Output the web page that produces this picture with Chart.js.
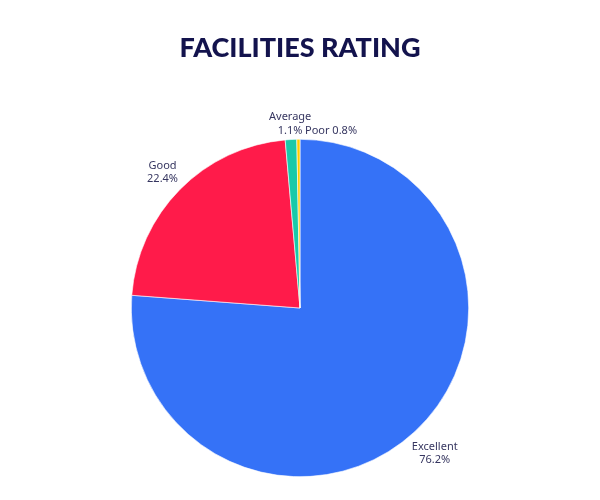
<!DOCTYPE html>
<html>
<head>
<meta charset="utf-8">
<script src="https://cdn.jsdelivr.net/npm/chart.js@4/dist/chart.umd.min.js"></script>
<style>
html,body{margin:0;padding:0;background:#fff;}
#wrap{position:relative;width:600px;height:500px;}
</style>
</head>
<body>
<div id="wrap"><canvas id="c" width="600" height="500"></canvas></div>
<script>
const categories = ["Excellent", "Good", "Average", "Poor"];
// slice sizes as drawn in the picture
const values = [76.2, 22.4, 1.1, 0.3];
// percentage texts as printed in the picture
const percentLabels = ["76.2%", "22.4%", "1.1%", "0.8%"];
const colors = ["#3572F7", "#FF1B4A", "#19C9A9", "#FFCC00"];
const titleText = "FACILITIES RATING";

const labelPlugin = {
  id: 'labels',
  afterDraw(chart) {
    const ctx = chart.ctx;
    ctx.save();
    // title
    ctx.fillStyle = '#13134d';
    ctx.font = '900 27px "Lato", "DejaVu Sans", sans-serif';
    ctx.textAlign = 'center';
    ctx.textBaseline = 'middle';
    ctx.fillText(titleText, 300, 48);
    // slice labels
    const meta = chart.getDatasetMeta(0);
    ctx.font = '11px "Noto Sans", sans-serif';
    ctx.fillStyle = '#363660';
    const lh = 13.5;
    meta.data.forEach((arc, i) => {
      const p = arc.getProps(['x','y','startAngle','endAngle','outerRadius'], true);
      const mid = (p.startAngle + p.endAngle) / 2;
      const txt = percentLabels[i];
      if (i === categories.length - 1 && values[i] < 1) {
        ctx.textAlign = 'left';
        ctx.fillText(categories[i] + ' ' + txt, p.x + 5, p.y - p.outerRadius - 8);
        return;
      }
      const w = Math.max(ctx.measureText(categories[i]).width, ctx.measureText(txt).width);
      const h = lh * 2;
      const ux = Math.cos(mid), uy = Math.sin(mid);
      const proj = Math.abs(ux) * w / 2 + Math.abs(uy) * h / 2;
      const d = p.outerRadius + (values[i] < 2 ? 1 : 4) + proj;
      const cx = p.x + ux * d;
      const cy = p.y + uy * d;
      ctx.textAlign = 'center';
      ctx.fillText(categories[i], cx, cy - lh / 2);
      ctx.fillText(txt, cx, cy + lh / 2);
    });
    ctx.restore();
  }
};

new Chart(document.getElementById('c'), {
  type: 'pie',
  data: {
    labels: categories,
    datasets: [{
      data: values,
      backgroundColor: colors,
      borderColor: '#ffffff',
      borderWidth: 0.6
    }]
  },
  options: {
    responsive: false,
    animation: false,
    layout: { padding: { top: 139, bottom: 23, left: 131, right: 131 } },
    plugins: {
      legend: { display: false },
      tooltip: { enabled: false },
      title: { display: false }
    }
  },
  plugins: [labelPlugin]
});
</script>
</body>
</html>
